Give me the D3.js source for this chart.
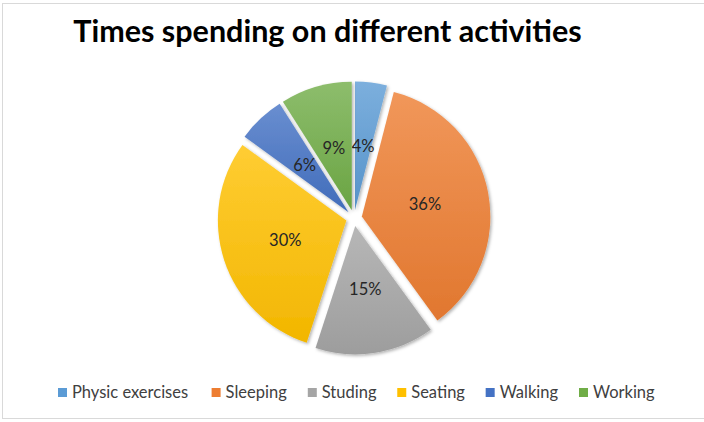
<!DOCTYPE html>
<html>
<head>
<meta charset="utf-8">
<script src="https://cdn.jsdelivr.net/npm/d3@7"></script>
<style>
  html, body { margin: 0; padding: 0; background: #fff; }
  svg { display: block; }
  text { font-family: Lato, "Open Sans", sans-serif; }
</style>
</head>
<body>
<div id="chart"></div>
<script>
// Donnees
var titre = "Times spending on different activities";
var activites = ["Physic exercises", "Sleeping", "Studing", "Seating", "Walking", "Working"];
var pourcentages = [4, 36, 15, 30, 6, 9];
var couleurs = ["#5B9BD5", "#ED7D31", "#A5A5A5", "#FFC000", "#4472C4", "#70AD47"];

var largeur = 704, hauteur = 422;
var centre = { x: 354, y: 218 };
var rayon = 128.5, explosion = 8;

var svg = d3.select("#chart").append("svg")
    .attr("width", largeur)
    .attr("height", hauteur);

var defs = svg.append("defs");

// Ombre portee legere
var ombre = defs.append("filter").attr("id", "ombre")
    .attr("x", "-10%").attr("y", "-10%").attr("width", "130%").attr("height", "130%");
ombre.append("feDropShadow")
    .attr("dx", 1.5).attr("dy", 1.5).attr("stdDeviation", 1.5)
    .attr("flood-color", "#000").attr("flood-opacity", 0.3);

// Degrades (clair en haut, fonce en bas)
couleurs.forEach(function (c, i) {
    var g = defs.append("linearGradient").attr("id", "deg" + i)
        .attr("x1", 0).attr("y1", 0).attr("x2", 0).attr("y2", 1);
    g.append("stop").attr("offset", "0%").attr("stop-color", d3.interpolateRgb(c, "#fff")(0.2));
    g.append("stop").attr("offset", "100%").attr("stop-color", d3.interpolateRgb(c, "#000")(0.05));
});

// Cadre
svg.append("rect")
    .attr("x", 2.5).attr("y", 3.5)
    .attr("width", 720).attr("height", 415)
    .attr("fill", "#fff").attr("stroke", "#d9d9d9");

// Titre
svg.append("text")
    .attr("x", 327.5).attr("y", 42)
    .attr("text-anchor", "middle")
    .attr("font-size", "30.5px")
    .attr("font-weight", "bold")
    .attr("fill", "#000")
    .text(titre);

// Camembert
var pie = d3.pie().sort(null).value(function (d) { return d; });
var arc = d3.arc().innerRadius(0).outerRadius(rayon);
var parts = pie(pourcentages);

function decalage (d) {
    var a = (d.startAngle + d.endAngle) / 2;
    return [Math.sin(a) * explosion, -Math.cos(a) * explosion];
}

var groupes = svg.append("g")
    .attr("transform", "translate(" + centre.x + "," + centre.y + ")")
    .selectAll("g.part").data(parts).enter().append("g")
    .attr("class", "part")
    .attr("transform", function (d) { var o = decalage(d); return "translate(" + o[0] + "," + o[1] + ")"; });

groupes.append("path")
    .attr("d", arc)
    .attr("fill", function (d, i) { return "url(#deg" + i + ")"; })
    .attr("filter", "url(#ombre)");

groupes.append("text")
    .attr("transform", function (d) { return "translate(" + arc.centroid(d) + ")"; })
    .attr("text-anchor", "middle")
    .attr("dy", "0.35em")
    .attr("font-size", "16.5px")
    .attr("fill", "#262626")
    .text(function (d) { return d.data + "%"; });

// Legende
var legende = svg.append("g").attr("class", "legende");
var items = legende.selectAll("g").data(activites).enter().append("g");
items.append("rect")
    .attr("width", 9).attr("height", 9)
    .attr("y", -10)
    .attr("fill", function (d, i) { return couleurs[i]; });
items.append("text")
    .attr("x", 14)
    .attr("font-size", "16.5px")
    .attr("fill", "#404040")
    .text(function (d) { return d; });

var ecart = 17, x = 0, positions = [];
items.each(function () {
    var w = 14 + d3.select(this).select("text").node().getComputedTextLength();
    positions.push(x);
    x += w + ecart;
});
var total = x - ecart;
var depart = 58, fin = 658;
items.attr("transform", function (d, i) { return "translate(" + (depart + positions[i] * ((fin - depart) / total)) + ",398)"; });
</script>
</body>
</html>
